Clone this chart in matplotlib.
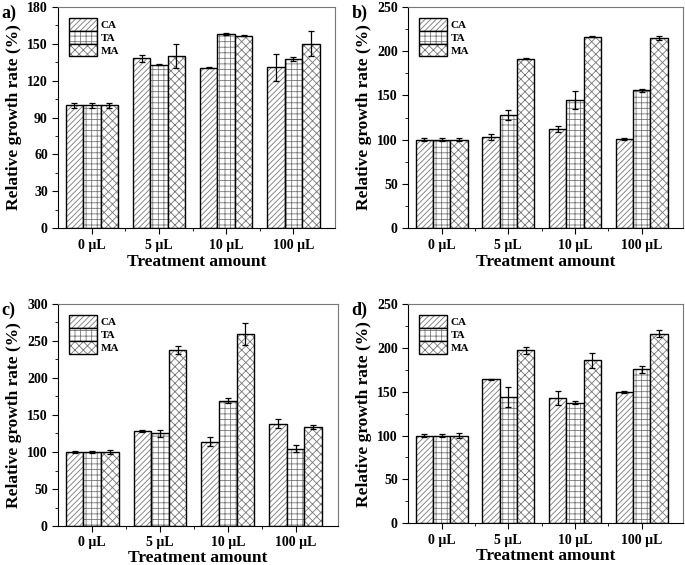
import matplotlib
matplotlib.use("Agg")
import matplotlib.pyplot as plt
import matplotlib.ticker as mticker
import numpy as np

plt.rcParams['font.family'] = ['Liberation Serif', 'DejaVu Serif']
plt.rcParams['font.weight'] = 'bold'
plt.rcParams['hatch.linewidth'] = 0.6

groups = ['0 µL', '5 µL', '10 µL', '100 µL']
series = ['CA', 'TA', 'MA']

# panel a
a_vals = {'CA': [100, 138, 130.5, 131], 'TA': [100, 133, 158, 137.5], 'MA': [100, 140, 156.5, 150]}
a_errs = {'CA': [2, 2.5, 0.3, 11], 'TA': [2, 0.3, 1, 1.5], 'MA': [2, 9.5, 0.5, 10]}
# panel b
b_vals = {'CA': [100, 103, 112, 101], 'TA': [100, 128, 145, 155.5], 'MA': [100, 191.5, 216, 215]}
b_errs = {'CA': [2, 3, 3, 1], 'TA': [2, 5.5, 10, 2], 'MA': [2, 1, 0.5, 2]}
# panel c
c_vals = {'CA': [100, 128, 114, 138], 'TA': [100, 125, 169.5, 104.5], 'MA': [100, 238, 259, 134]}
c_errs = {'CA': [2, 1.5, 6, 6], 'TA': [1.5, 5, 3.5, 5], 'MA': [2.5, 5, 15, 3]}
# panel d
d_vals = {'CA': [100, 164, 143, 149.5], 'TA': [100, 144, 137.5, 175.5], 'MA': [100, 197, 186, 216]}
d_errs = {'CA': [2, 1, 8, 1], 'TA': [2, 11, 2, 4], 'MA': [2.5, 4, 8.5, 4]}

hatches = {'CA': '//////', 'TA': '+++', 'MA': 'xxxx'}

panels = [
    ('a)', a_vals, a_errs, 180, 30, [0.085, 0.596, 0.404, 0.392], 2),
    ('b)', b_vals, b_errs, 250, 50, [0.596, 0.596, 0.401, 0.392], 2),
    ('c)', c_vals, c_errs, 300, 50, [0.085, 0.069, 0.408, 0.393], 0.5),
    ('d)', d_vals, d_errs, 250, 50, [0.596, 0.074, 0.401, 0.388], 1),
]

fig = plt.figure(figsize=(6.85, 5.65), dpi=100)
x = np.arange(len(groups))
w = 0.26

for label, vals, errs, ymax, ystep, pos, xpad in panels:
    ax = fig.add_axes(pos)
    handles = []
    for i, s in enumerate(series):
        xs = x + (i - 1) * w
        h1 = ax.bar(xs, vals[s], w, color='white', edgecolor='#777777',
                    hatch=hatches[s], linewidth=0)
        h2 = ax.bar(xs, vals[s], w, fill=False, edgecolor='black', linewidth=1.0)
        ax.errorbar(xs, vals[s], yerr=errs[s], fmt='none', ecolor='black',
                    elinewidth=0.9, capsize=2.5, capthick=0.9)
        handles.append((h1[0], h2[0]))
    ax.set_xlim(-0.5, 3.62)
    ax.set_ylim(0, ymax)
    ax.yaxis.set_major_locator(mticker.MultipleLocator(ystep))
    ax.yaxis.set_minor_locator(mticker.MultipleLocator(ystep / 2))
    ax.set_xticks(x)
    ax.set_xticklabels(groups)
    ax.set_xticks([0.5, 1.5, 2.5], minor=True)
    ax.tick_params(which='both', direction='out', labelsize=10)
    ax.tick_params(which='major', length=4)
    ax.tick_params(which='minor', length=2.5)
    for sp in ['top', 'right']:
        ax.spines[sp].set_color('#777777')
    ax.set_ylabel('Relative growth rate (%)', fontsize=12.5, fontweight='bold', labelpad=4)
    ax.set_xlabel('Treatment amount', fontsize=12.5, fontweight='bold', labelpad=xpad)
    ax.legend(handles, series, loc='upper left', frameon=False, fontsize=8,
              handlelength=2.5, handleheight=1.4, labelspacing=0.0,
              handletextpad=0.3, borderaxespad=0.6)
    fig.text(pos[0] - 0.083, pos[1] + pos[3] - 0.012, label,
             fontsize=13, fontweight='bold', ha='left', va='center')

plt.savefig('out.png', dpi=100)
